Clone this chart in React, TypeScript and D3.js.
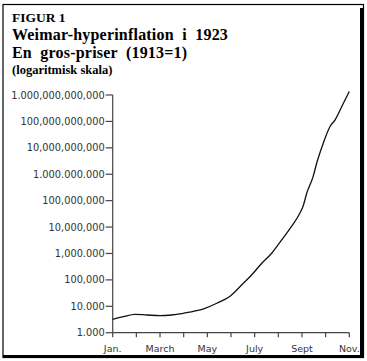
import React from "react";
import * as d3 from "d3";

const monthLabels = ["Jan.", "", "March", "", "May", "", "July", "", "Sept", "", "Nov."];
const tickValues = [1e3, 1e4, 1e5, 1e6, 1e7, 1e8, 1e9, 1e10, 1e11, 1e12];
const tickLabels = [
  "1.000",
  "10.000",
  "100,000",
  "1,000.000",
  "10,000,000",
  "100,000,000",
  "1.000.000.000",
  "10,000,000,000",
  "100,000,000,000",
  "1.000,000,000,000",
];
// month position (0 = Jan, 10 = Nov) and wholesale price index (1913 = 1)
const monthPos = [0, 0.45, 0.94, 1.44, 2.0, 2.49, 2.98, 3.55, 3.9, 4.4, 4.96, 5.52, 5.87, 6.3, 6.72, 7.14, 7.5, 7.91, 8.05, 8.2, 8.47, 8.62, 8.9, 9.18, 9.4, 9.75, 10.0];
const priceIndex = [3220, 4040, 4980, 4680, 4400, 4680, 5410, 6800, 8390, 13000, 24000, 74300, 153000, 426000, 1.02e6, 3.25e6, 9.0e6, 3.33e7, 6.3e7, 1.9e8, 8.1e8, 2.6e9, 1.5e10, 6.3e10, 1.15e11, 4.9e11, 1.35e12];

const titleLines = ["FIGUR 1", "Weimar-hyperinflation  i  1923", "En  gros-priser  (1913=1)", "(logaritmisk skala)"];

export default function App() {
  const W = 367, H = 361;
  const x = d3.scaleLinear().domain([0, 10]).range([112.7, 349.3]);
  const y = d3.scaleLog().domain([1e3, 1e12]).range([332.7, 95]);
  const pts = monthPos.map((m, i) => [m, priceIndex[i]] as [number, number]);
  const line = d3.line<[number, number]>().x(d => x(d[0])).y(d => y(d[1])).curve(d3.curveMonotoneX);
  const axisColor = "#444";
  const labelFont = "'DejaVu Sans', sans-serif";
  const serif = "'Liberation Serif', serif";
  return (
    <svg width={W} height={H} style={{ position: "absolute", left: 0, top: 0, background: "#fff" }}>
      <rect x={0} y={0} width={W} height={H} fill="#fff" />
      {/* frame */}
      <rect x={3} y={4.5} width={360.5} height={353} fill="none" stroke="#000" strokeWidth={1.2} />
      <rect x={360} y={8} width={3} height={350} fill="#000" />
      <rect x={3} y={355} width={360} height={3} fill="#000" />
      {/* title */}
      <text x={12} y={21.5} fontFamily={serif} fontWeight="bold" fontSize={13.5} style={{ whiteSpace: "pre" }}>{titleLines[0]}</text>
      <text x={12} y={39.5} fontFamily={serif} fontWeight="bold" fontSize={16} letterSpacing={0.2} style={{ whiteSpace: "pre" }}>{titleLines[1]}</text>
      <text x={12} y={57.5} fontFamily={serif} fontWeight="bold" fontSize={16} letterSpacing={0.2} style={{ whiteSpace: "pre" }}>{titleLines[2]}</text>
      <text x={12} y={74} fontFamily={serif} fontWeight="bold" fontSize={12.5} style={{ whiteSpace: "pre" }}>{titleLines[3]}</text>
      {/* y axis */}
      <line x1={x(0)} x2={x(0)} y1={y(1e12)} y2={y(1e3)} stroke={axisColor} strokeWidth={1.2} />
      {tickValues.map((v, i) => (
        <g key={v}>
          <line x1={x(0) - 7} x2={x(0)} y1={y(v)} y2={y(v)} stroke={axisColor} strokeWidth={1.2} />
          <text x={x(0) - 8} y={y(v)} dy="0.36em" textAnchor="end" fontFamily={labelFont} fontSize={9.8} fill="#333">{tickLabels[i]}</text>
        </g>
      ))}
      {/* x axis */}
      <line x1={x(0)} x2={x(10)} y1={y(1e3)} y2={y(1e3)} stroke={axisColor} strokeWidth={1.2} />
      {monthLabels.map((lab, i) => (
        <g key={i}>
          <line x1={x(i)} x2={x(i)} y1={y(1e3)} y2={y(1e3) + 4.5} stroke={axisColor} strokeWidth={1.2} />
          {lab && (
            <text x={x(i)} y={351.5} textAnchor="middle" fontFamily={labelFont} fontSize={9.5} fill="#333">{lab}</text>
          )}
        </g>
      ))}
      <path d={line(pts) || ""} fill="none" stroke="#111" strokeWidth={1.3} />
    </svg>
  );
}
